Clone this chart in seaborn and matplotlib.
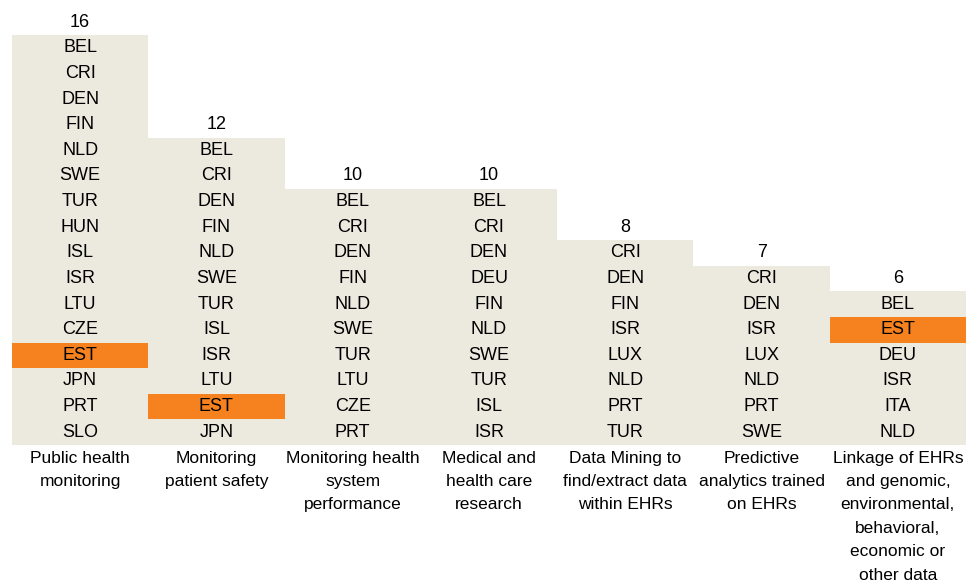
import matplotlib
matplotlib.use("Agg")
import matplotlib.pyplot as plt
import seaborn as sns
import pandas as pd

# =====================================================
# DATA
# =====================================================

categories = [
    "Public health\nmonitoring",
    "Monitoring\npatient safety",
    "Monitoring health\nsystem\nperformance",
    "Medical and\nhealth care\nresearch",
    "Data Mining to\nfind/extract data\nwithin EHRs",
    "Predictive\nanalytics trained\non EHRs",
    "Linkage of EHRs\nand genomic,\nenvironmental,\nbehavioral,\neconomic or\nother data",
]

countries_public = ["BEL", "CRI", "DEN", "FIN", "NLD", "SWE", "TUR", "HUN",
                    "ISL", "ISR", "LTU", "CZE", "EST", "JPN", "PRT", "SLO"]
countries_safety = ["BEL", "CRI", "DEN", "FIN", "NLD", "SWE", "TUR", "ISL",
                    "ISR", "LTU", "EST", "JPN"]
countries_system = ["BEL", "CRI", "DEN", "FIN", "NLD", "SWE", "TUR", "LTU",
                    "CZE", "PRT"]
countries_research = ["BEL", "CRI", "DEN", "DEU", "FIN", "NLD", "SWE", "TUR",
                      "ISL", "ISR"]
countries_mining = ["CRI", "DEN", "FIN", "ISR", "LUX", "NLD", "PRT", "TUR"]
countries_predictive = ["CRI", "DEN", "ISR", "LUX", "NLD", "PRT", "SWE"]
countries_linkage = ["BEL", "EST", "DEU", "ISR", "ITA", "NLD"]

country_lists = [countries_public, countries_safety, countries_system,
                 countries_research, countries_mining, countries_predictive,
                 countries_linkage]

highlight = "EST"

counts = [len(c) for c in country_lists]

# =====================================================
# STYLE
# =====================================================

sns.set_style("white")
plt.rcParams['font.family'] = ['Liberation Sans', 'DejaVu Sans']

beige = "#ECE9DF"
orange = "#F5821F"
fs_cell = 13
fs_label = 12.5

# =====================================================
# PLOT
# =====================================================

fig = plt.figure(figsize=(9.66, 5.87), dpi=100)
ax = fig.add_axes([12 / 966, 142 / 587, 954 / 966, 410 / 587])

df = pd.DataFrame({"category": categories, "count": counts})

sns.barplot(
    data=df,
    x="category",
    y="count",
    color=beige,
    saturation=1,
    width=1.0,
    linewidth=0,
    edgecolor="none",
    ax=ax
)

for i, names in enumerate(country_lists):
    n = len(names)
    for j, name in enumerate(names):
        y_mid = n - j - 0.5
        if name == highlight:
            ax.bar(i, 1, bottom=n - j - 1, width=1.0, color=orange,
                   linewidth=0)
        ax.text(i, y_mid, name, ha="center", va="center",
                fontsize=fs_cell, color="black")
    ax.text(i, n + 0.5, str(n), ha="center", va="center",
            fontsize=fs_cell, color="black", clip_on=False)

ax.set_xlim(-0.5, len(categories) - 0.5)
ax.set_ylim(0, 16)

ax.set_xticks(range(len(categories)))
ax.set_xticklabels(categories, fontsize=fs_label, linespacing=1.7)
ax.tick_params(axis="x", length=0, pad=4, labelcolor="black")
ax.set_yticks([])
ax.set_xlabel("")
ax.set_ylabel("")

for spine in ax.spines.values():
    spine.set_visible(False)

plt.savefig("out.png", dpi=100)
plt.close()
